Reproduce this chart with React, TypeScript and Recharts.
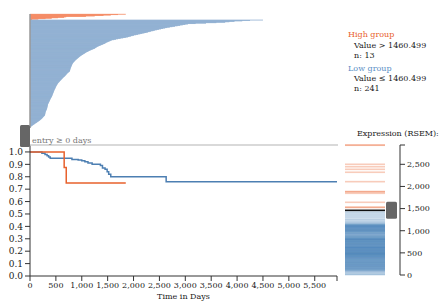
import React from 'react'
import {
  Bar,
  BarChart,
  Cell,
  ComposedChart,
  Line,
  LineChart,
  Scatter,
  XAxis,
  YAxis
} from 'recharts'

// follow-up time (days) per patient, sorted longest first
const highTimes = [1850, 1700, 1560, 1420, 1250, 1080, 700, 660, 540, 420, 300, 160, 40]
const lowTimes = [
  4500, 4250, 4100, 3950, 3850, 3770, 3600, 3400, 3200, 3050,
  3000, 2950, 2900, 2850, 2800, 2750, 2700, 2650, 2610,
  2570, 2530, 2490, 2450, 2410, 2380, 2340, 2310, 2280,
  2250, 2210, 2170, 2130, 2090, 2050, 2010, 1980, 1950, 1920, 1890,
  1850, 1800, 1750, 1700, 1660, 1620, 1580,
  1560, 1540, 1520, 1500, 1480, 1465, 1450,
  1430, 1410, 1390, 1370, 1350, 1330, 1310, 1295, 1280, 1265, 1255,
  1235, 1215, 1195, 1175, 1155, 1140, 1120, 1100, 1085, 1070, 1060,
  1045, 1030, 1020, 1005, 990, 980, 965, 955, 945, 935, 925,
  915, 905, 895, 885, 875, 870, 860, 850, 845, 835, 830,
  825, 820, 815, 812, 808, 805, 800, 797, 794, 790, 787, 784, 781, 778, 776, 774, 772, 770,
  760, 750, 740, 730, 720, 712, 705, 698, 690, 682, 675,
  665, 655, 645, 637, 628, 620, 612, 603, 595, 588, 580, 572, 564, 556, 548, 540,
  535, 530, 525, 520, 515, 510, 505, 500, 497, 493, 490, 485, 480,
  476, 472, 469, 466, 462, 459, 455, 452, 448, 445, 441, 438, 435, 432, 428, 425,
  420, 415, 410, 405, 400, 396, 392, 388, 384, 380, 376, 372, 368, 364, 360, 355, 350,
  348, 346, 344, 342, 340, 338, 336, 334, 332, 330, 327, 324,
  320, 316, 312, 308, 305, 302, 300, 298, 296, 294, 292, 291, 290,
  282, 274, 266, 258, 250, 242, 234, 225, 215, 205, 195,
  185, 172, 160, 147, 134, 121, 108, 96, 84, 72, 60,
  48, 36, 24, 14, 6, 1
]

// Kaplan-Meier steps
const kmLowT = [0, 230, 290, 330, 360, 390, 810, 930, 1000, 1060, 1120, 1200, 1360, 1400, 1450, 1490, 1520, 1560, 2630, 5930]
const kmLowS = [1, 0.99, 0.98, 0.97, 0.96, 0.95, 0.94, 0.935, 0.93, 0.92, 0.91, 0.9, 0.89, 0.87, 0.86, 0.84, 0.82, 0.8, 0.76, 0.76]
const kmHighT = [0, 660, 700, 1850]
const kmHighS = [1, 0.875, 0.75, 0.75]

const timeTicks = [0, 500, 1000, 1500, 2000, 2500, 3000, 3500, 4000, 4500, 5000, 5500, 5930]
const survTicks = [0, 0.1, 0.2, 0.3, 0.4, 0.5, 0.6, 0.7, 0.8, 0.9, 1.0]
const maxTime = 5930

// expression values (RSEM)
const threshold = 1460.499
const highExpr = [2936, 2930, 2500, 2446, 2387, 2320, 2108, 1885, 1880, 1845, 1642, 1532, 1525]
const lowExpr = [
  1435, 1410, 1395, 1370, 1350, 1330, 1310, 1290, 1265, 1250, 1230, 1210, 1195, 1180,
  1148, 1142, 1135, 1130, 1126, 1118, 1112, 1105, 1101,
  1096, 1090, 1084, 1077, 1072, 1066, 1060, 1052, 1047, 1040, 1033, 1028, 1021, 1015, 1008, 1003,
  997, 990, 983, 975, 968, 960, 952, 946, 939, 930, 922, 915, 908, 902,
  896, 889, 880, 874, 866, 858, 851, 845, 838, 830, 823, 816, 810, 803, 800,
  795, 789, 781, 774, 768, 760, 753, 747, 741, 734, 726, 719, 712, 706, 701,
  697, 690, 684, 677, 671, 664, 658, 650, 643, 637, 630, 624, 617, 611, 604,
  598, 592, 586, 579, 573, 566, 560, 553, 546, 540, 533, 527, 520, 514, 507, 501,
  496, 490, 483, 477, 470, 464, 457, 451, 444, 438, 431, 425, 418, 412, 405, 401,
  396, 390, 383, 377, 370, 364, 357, 350, 344, 337, 331, 324, 318, 311, 305,
  298, 292, 285, 279, 272, 266, 259, 253, 246, 240, 233, 227, 220, 214, 207, 201,
  196, 189, 183, 176, 170, 163, 157, 150, 144, 137, 131, 124, 118, 111, 105,
  98, 90, 80, 68, 55, 40, 25, 12, 4,
  1125, 1110, 1094, 1080, 1062, 1044, 1025, 1010, 992, 978,
  835, 826, 812, 797, 785, 770, 756, 744, 729, 715,
  688, 673, 655, 640, 626, 612, 596, 582, 569, 556,
  543, 530, 517, 504, 492, 479, 466, 453, 440, 428,
  415, 386, 360, 333, 302, 275, 245, 215, 180, 140,
  1160, 1170, 942, 870, 620, 474
]
const exprMax = 2936
const exprTicks = [0, 500, 1000, 1500, 2000, 2500, exprMax]

const ORANGE = '#e8612d'
const BLUE = '#4d7fb2'
const FONT = "'DejaVu Serif', serif"
const FS = 8

const fmt = (v: number) => String(v).replace(/\B(?=(\d{3})+(?!\d))/g, ',')

const rows = [
  ...highTimes.map((t, i) => ({ id: 'h' + i, t, high: true })),
  ...lowTimes.map((t, i) => ({ id: 'l' + i, t, high: false }))
]
const kmLow = kmLowT.map((t, i) => ({ t, s: kmLowS[i] }))
const kmHigh = kmHighT.map((t, i) => ({ t, s: kmHighS[i] }))
const highPts = highExpr.map((v) => ({ x: 0, v }))
const lowPts = lowExpr.map((v) => ({ x: 0, v }))
const cutPts = [{ x: 0, v: threshold }]

const tickStyle = { fill: '#1a1a1a', fontSize: FS, fontFamily: FONT }

const stripe = (color: string, opacity: number, h: number) => (p: any) => (
  <rect x={p.cx} y={p.cy - h / 2} width={40} height={h} fill={color} fillOpacity={opacity} />
)

// bars are thinner than a pixel: pad them a little so rows blend into a solid band
const rowBar = (p: any) => (
  <rect x={p.x} y={p.y - 0.15} width={Math.max(0, p.width)} height={p.height + 0.3} fill={p.fill} />
)

export default function App() {
  return (
    <div style={{ position: 'absolute', left: 0, top: 0, width: 441, height: 304, background: '#fff' }}>
      <div style={{ position: 'absolute', left: 0, top: 10 }}>
        <BarChart
          width={345}
          height={118}
          data={rows}
          layout="vertical"
          barCategoryGap={0}
          margin={{ top: 4, right: 8, left: 0, bottom: 0 }}
        >
          <XAxis type="number" domain={[0, maxTime]} hide />
          <YAxis type="category" dataKey="id" width={30} tick={false} tickLine={false} axisLine={{ stroke: '#999', strokeWidth: 1.5 }} />
          <Bar dataKey="t" shape={rowBar} isAnimationActive={false}>
            {rows.map((r) => (
              <Cell key={r.id} fill={r.high ? '#f4845b' : '#8aabcf'} />
            ))}
          </Bar>
        </BarChart>
      </div>

      <div style={{ position: 'absolute', left: 0, top: 140 }}>
        <LineChart width={345} height={164} margin={{ top: 5, right: 8, left: 0, bottom: 0 }}>
          <XAxis
            type="number"
            dataKey="t"
            domain={[0, maxTime]}
            ticks={timeTicks}
            interval={0}
            tickFormatter={(v: number) => (v === maxTime ? '' : fmt(v))}
            tick={tickStyle}
            tickSize={5}
            tickMargin={1}
            axisLine={{ stroke: '#333' }}
            tickLine={{ stroke: '#333' }}
            height={28}
            label={{ value: 'Time in Days', position: 'insideBottom', offset: 5, style: { fill: '#1a1a1a', fontSize: FS, fontFamily: FONT } }}
          />
          <YAxis
            type="number"
            dataKey="s"
            domain={[0, 1.056]}
            ticks={survTicks}
            interval={0}
            tickFormatter={(v: number) => v.toFixed(1)}
            tick={{ ...tickStyle, fontSize: 9 }}
            tickSize={5}
            tickMargin={2}
            width={30}
            axisLine={{ stroke: '#333' }}
            tickLine={{ stroke: '#333' }}
          />
          <Line data={kmLow} dataKey="s" type="stepAfter" stroke={BLUE} strokeWidth={1.5} dot={false} isAnimationActive={false} />
          <Line data={kmHigh} dataKey="s" type="stepAfter" stroke={ORANGE} strokeWidth={1.5} dot={false} isAnimationActive={false} />
        </LineChart>
      </div>

      <div style={{ position: 'absolute', left: 340, top: 140 }}>
        <ComposedChart width={101} height={140} margin={{ top: 5, right: 0, left: 5, bottom: 5 }}>
          <XAxis type="number" dataKey="x" domain={[0, 1]} hide />
          <YAxis
            type="number"
            dataKey="v"
            orientation="right"
            domain={[0, exprMax]}
            ticks={exprTicks}
            interval={0}
            tickFormatter={(v: number) => (v === exprMax ? '' : fmt(v))}
            tick={{ ...tickStyle, textAnchor: 'start' }}
            tickSize={5}
            tickMargin={2}
            width={41}
            axisLine={{ stroke: '#333' }}
            tickLine={{ stroke: '#333' }}
          />
          <Scatter data={lowPts} shape={stripe('#3a78b4', 0.24, 1.2)} isAnimationActive={false} />
          <Scatter data={highPts} shape={stripe(ORANGE, 0.32, 1.6)} isAnimationActive={false} />
          <Scatter
            data={cutPts}
            isAnimationActive={false}
            shape={(p: any) => (
              <g>
                <rect x={p.cx} y={p.cy - 0.8} width={40} height={1.6} fill="#111" />
                <rect x={p.cx + 41} y={p.cy - 8.5} width={11} height={17} rx={1.5} fill="#666" />
              </g>
            )}
          />
        </ComposedChart>
      </div>

      <svg width={441} height={304} style={{ position: 'absolute', left: 0, top: 0, pointerEvents: 'none' }}>
        <line x1={30} x2={338} y1={145} y2={145} stroke="#ccc" strokeWidth={1.5} />
        <rect x={20} y={125} width={10} height={22} rx={1.5} fill="#666" />
        <text x={32} y={143} fontSize={FS} fontFamily={FONT} fill="#777">entry ≥ 0 days</text>
        <text x={357} y={136} fontSize={FS} fontFamily={FONT} fill="#1a1a1a">Expression (RSEM):</text>
        <g fontSize={FS} fontFamily={FONT}>
          <text x={348} y={37} fill={ORANGE}>High group</text>
          <text x={354} y={47.5} fill="#1a1a1a">Value &gt; 1460.499</text>
          <text x={354} y={57.5} fill="#1a1a1a">n: 13</text>
          <text x={348} y={70.5} fill="#5b8fc6">Low group</text>
          <text x={354} y={81} fill="#1a1a1a">Value ≤ 1460.499</text>
          <text x={354} y={91} fill="#1a1a1a">n: 241</text>
        </g>
      </svg>
    </div>
  )
}
